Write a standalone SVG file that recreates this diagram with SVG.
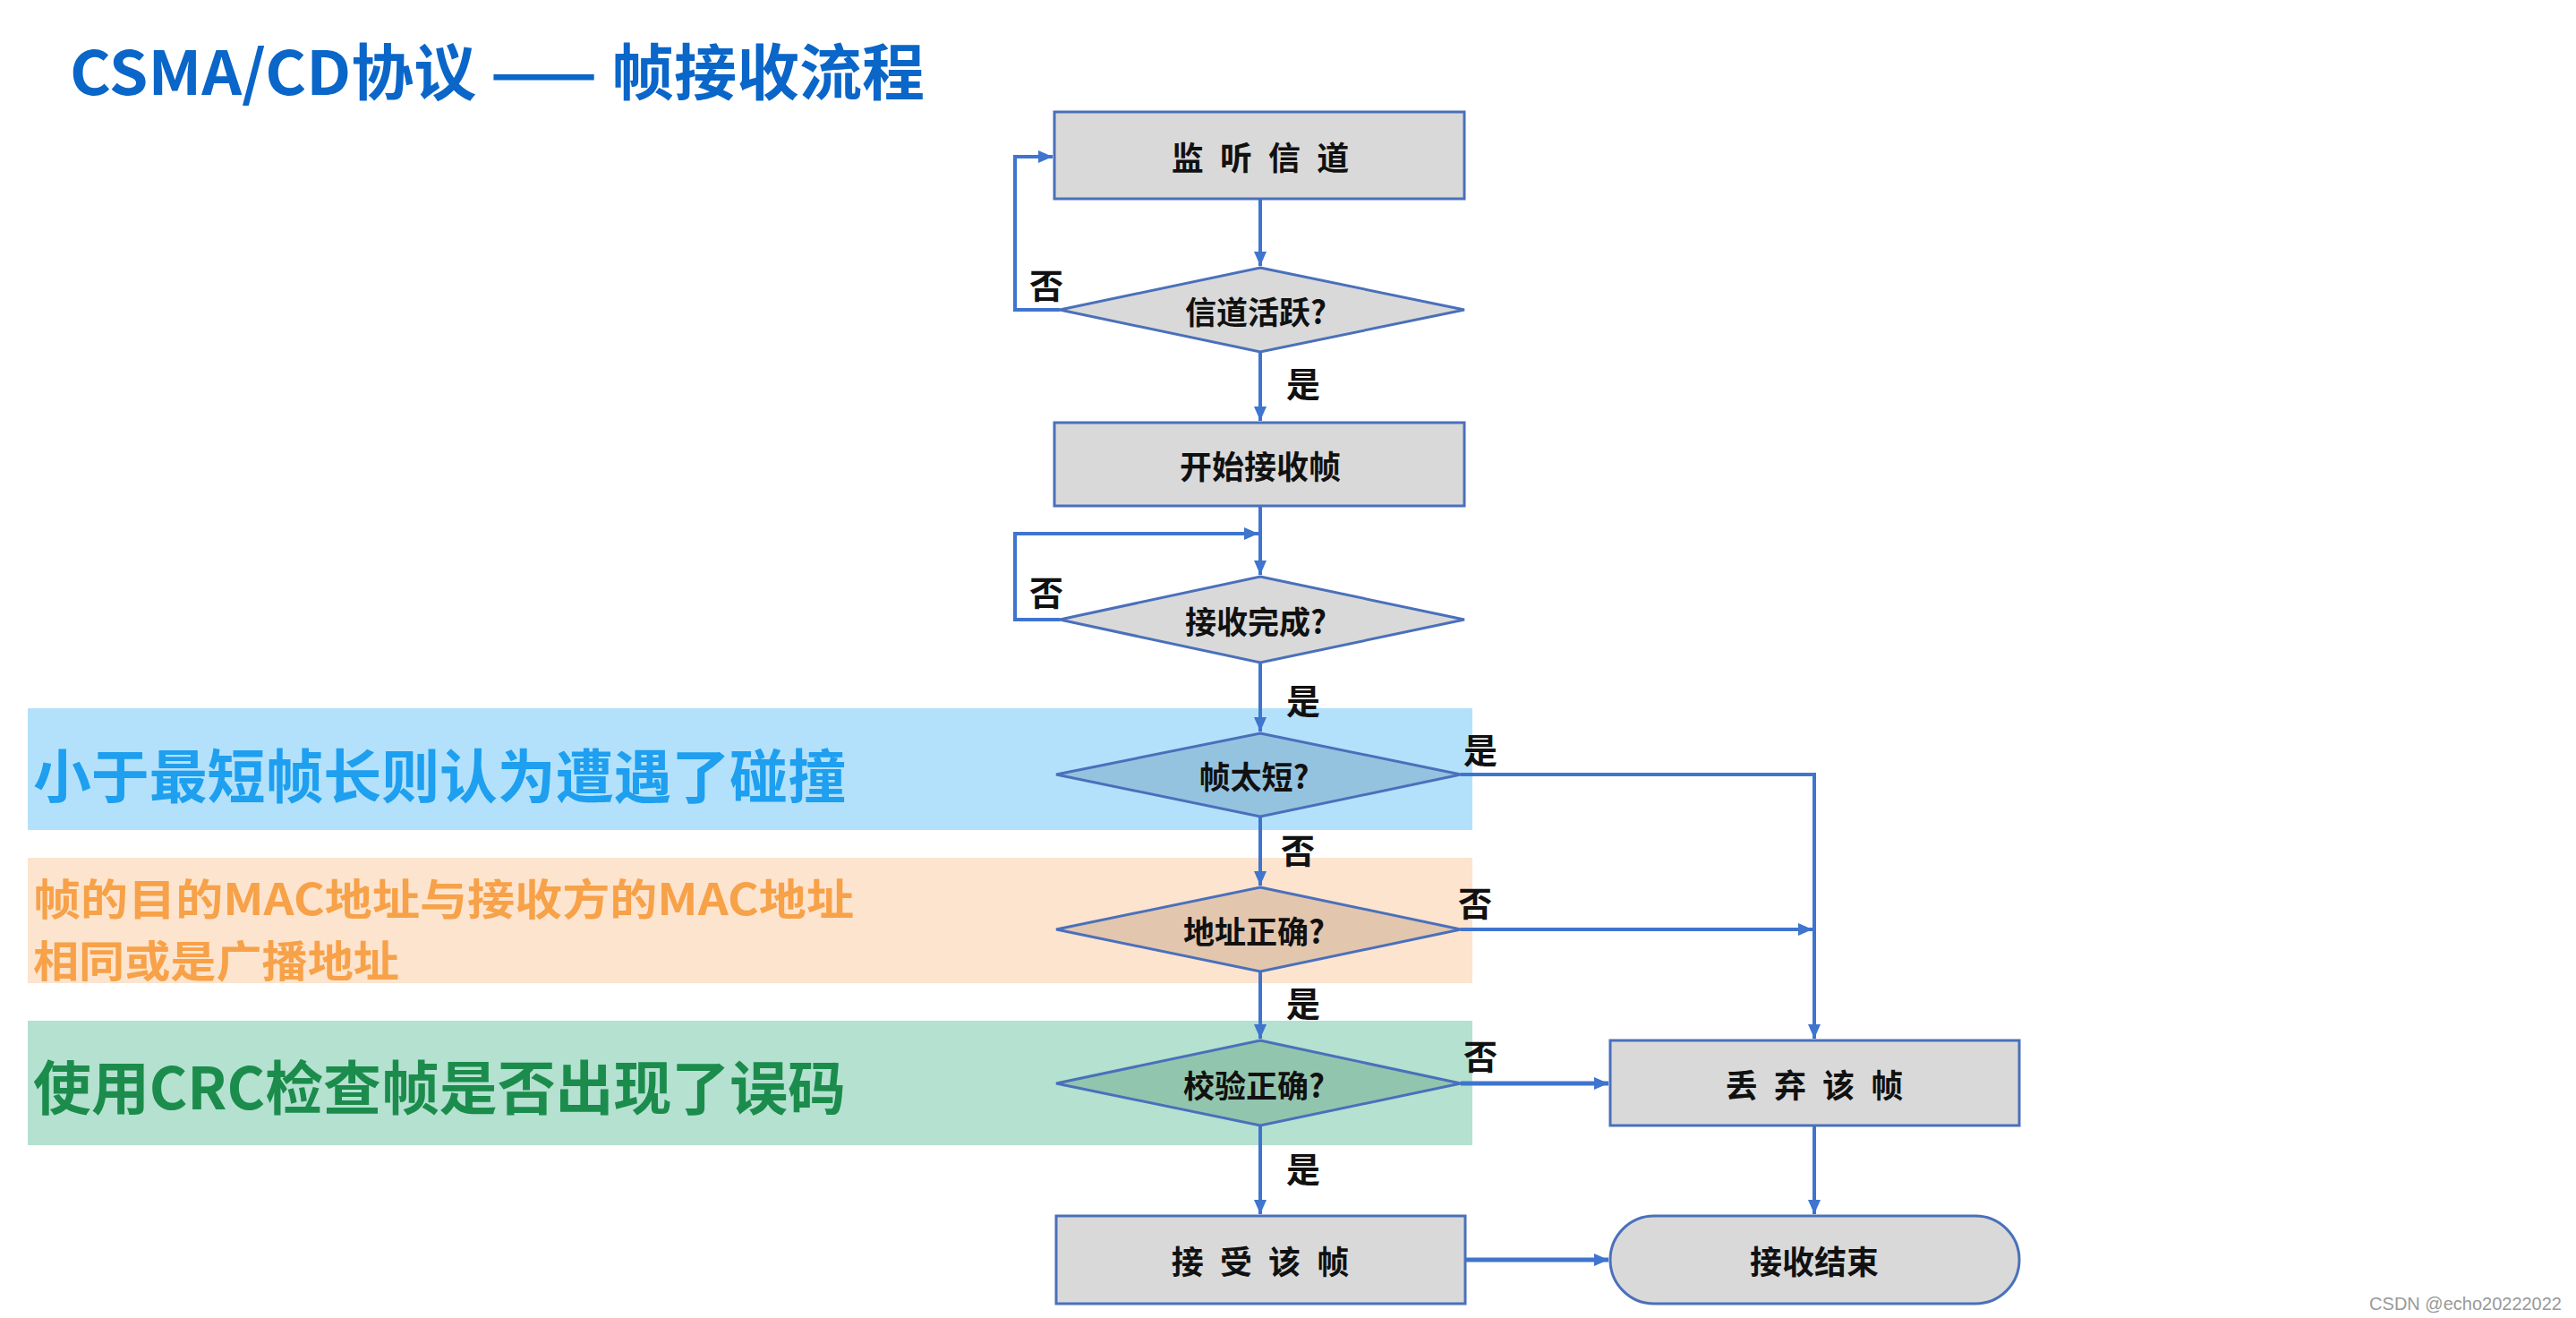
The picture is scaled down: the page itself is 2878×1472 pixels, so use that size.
<svg xmlns="http://www.w3.org/2000/svg" width="2878" height="1472" viewBox="0 0 2878 1472">
<style>
.box{fill:#D9D9D9;stroke:#4A70BB;stroke-width:3}
.dia{stroke:#4A70BB;stroke-width:3}
.nt{font-family:"Noto Sans CJK SC","Noto Sans",sans-serif;font-weight:bold;font-size:36px;fill:#111;text-anchor:middle;dominant-baseline:central}
.dt{font-family:"Noto Sans CJK SC","Noto Sans",sans-serif;font-weight:bold;font-size:35px;fill:#111;text-anchor:middle;dominant-baseline:central}
.lb{font-family:"Noto Sans CJK SC",sans-serif;font-weight:bold;font-size:38px;fill:#111;text-anchor:middle;dominant-baseline:central}
.band{font-family:"Noto Sans CJK SC","Noto Sans",sans-serif;font-weight:bold;dominant-baseline:central}
.c{fill:none;stroke:#3F74CF;stroke-width:4}
</style>
<defs>
<marker id="ah" markerUnits="userSpaceOnUse" markerWidth="20" markerHeight="20" viewBox="0 0 20 20" refX="18" refY="10" orient="auto">
<path d="M2,3 L18,10 L2,17 Z" fill="#3F74CF"/>
</marker>
</defs>
<rect width="2878" height="1472" fill="#FFFFFF"/>
<g id="title">
<text x="78" y="76" font-family="Noto Sans CJK SC, sans-serif" font-weight="bold" font-size="68" fill="#0A66C8" dominant-baseline="central" textLength="955" lengthAdjust="spacingAndGlyphs">CSMA/CD协议 —— 帧接收流程</text>
</g>
<g id="bands">
<rect x="31" y="791" width="1614" height="136" fill="#B3E1FB"/>
<rect x="31" y="958" width="1614" height="140" fill="#FDE4CE"/>
<rect x="31" y="1140" width="1614" height="139" fill="#B4E1D0"/>
<text class="band" x="37" y="863" font-size="65" fill="#1E9FEF" textLength="908" lengthAdjust="spacingAndGlyphs">小于最短帧长则认为遭遇了碰撞</text>
<text class="band" x="37" y="1001" font-size="48" fill="#F7A148" textLength="917" lengthAdjust="spacingAndGlyphs">帧的目的MAC地址与接收方的MAC地址</text>
<text class="band" x="37" y="1070" font-size="48" fill="#F7A148" textLength="409" lengthAdjust="spacingAndGlyphs">相同或是广播地址</text>
<text class="band" x="37" y="1211" font-size="65" fill="#1B8C4C" textLength="908" lengthAdjust="spacingAndGlyphs">使用CRC检查帧是否出现了误码</text>
</g>
<g id="connectors">
<path class="c" d="M1408,222 V297" marker-end="url(#ah)"/>
<path class="c" d="M1184,346 H1134 V175 H1176" marker-end="url(#ah)"/>
<path class="c" d="M1408,393 V470" marker-end="url(#ah)"/>
<path class="c" d="M1408,565 V642" marker-end="url(#ah)"/>
<path class="c" d="M1184,692 H1134 V596 H1406" marker-end="url(#ah)"/>
<path class="c" d="M1408,740 V817" marker-end="url(#ah)"/>
<path class="c" d="M1632,865 H2027 V1160" marker-end="url(#ah)"/>
<path class="c" d="M1408,912 V989" marker-end="url(#ah)"/>
<path class="c" d="M1632,1038 H2025" marker-end="url(#ah)"/>
<path class="c" d="M1408,1085 V1160" marker-end="url(#ah)"/>
<path class="c" d="M1632,1210 H1797" marker-end="url(#ah)" style="stroke-width:5"/>
<path class="c" d="M1408,1257 V1356" marker-end="url(#ah)"/>
<path class="c" d="M1637,1407 H1797" marker-end="url(#ah)" style="stroke-width:5"/>
<path class="c" d="M2027,1257 V1356" marker-end="url(#ah)"/>
<text class="lb" x="1169" y="316">否</text>
<text class="lb" x="1456" y="426">是</text>
<text class="lb" x="1169" y="659">否</text>
<text class="lb" x="1456" y="780">是</text>
<text class="lb" x="1654" y="835">是</text>
<text class="lb" x="1450" y="947">否</text>
<text class="lb" x="1648" y="1006">否</text>
<text class="lb" x="1456" y="1118">是</text>
<text class="lb" x="1654" y="1177">否</text>
<text class="lb" x="1456" y="1303">是</text>
</g>
<g id="n1"><rect class="box" x="1178" y="125" width="458" height="97"/><text class="nt" x="1408" y="174" word-spacing="10">监 听 信 道</text></g>
<g id="n2"><path class="dia" d="M1408,299 L1636,346 L1408,393 L1184,346 Z" fill="#D9D9D9"/><text class="dt" x="1403" y="346">信道活跃?</text></g>
<g id="n3"><rect class="box" x="1178" y="472" width="458" height="93"/><text class="nt" x="1408" y="519">开始接收帧</text></g>
<g id="n4"><path class="dia" d="M1408,644 L1636,692 L1408,740 L1184,692 Z" fill="#D9D9D9"/><text class="dt" x="1403" y="692">接收完成?</text></g>
<g id="n5"><path class="dia" d="M1408,819 L1632,865 L1408,912 L1180,865 Z" fill="#94C3E0"/><text class="dt" x="1401" y="865">帧太短?</text></g>
<g id="n6"><path class="dia" d="M1408,991 L1632,1038 L1408,1085 L1180,1038 Z" fill="#E2C6AE"/><text class="dt" x="1401" y="1038">地址正确?</text></g>
<g id="n7"><path class="dia" d="M1408,1162 L1632,1210 L1408,1257 L1180,1210 Z" fill="#92C5AE"/><text class="dt" x="1401" y="1210">校验正确?</text></g>
<g id="n8"><rect class="box" x="1180" y="1358" width="457" height="98"/><text class="nt" x="1408" y="1407" word-spacing="10">接 受 该 帧</text></g>
<g id="n9"><rect class="box" x="1799" y="1162" width="457" height="95"/><text class="nt" x="2027" y="1210" word-spacing="10">丢 弃 该 帧</text></g>
<g id="n10"><rect class="box" x="1799" y="1358" width="457" height="98" rx="49" ry="49"/><text class="nt" x="2027" y="1407">接收结束</text></g>
<g id="watermark"><text x="2862" y="1456" font-family="Liberation Sans, sans-serif" font-size="20" fill="#999" text-anchor="end" dominant-baseline="central">CSDN @echo20222022</text></g>
</svg>
